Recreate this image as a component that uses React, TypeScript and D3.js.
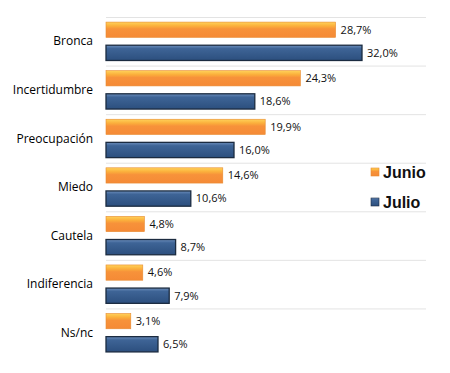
import { useRef, useEffect } from "react";
import * as d3 from "d3";

const categories = ["Bronca", "Incertidumbre", "Preocupación", "Miedo", "Cautela", "Indiferencia", "Ns/nc"];
const series = ["Junio", "Julio"];
const junio = [28.7, 24.3, 19.9, 14.6, 4.8, 4.6, 3.1];
const julio = [32.0, 18.6, 16.0, 10.6, 8.7, 7.9, 6.5];

const W = 450;
const H = 373;

const App = () => {
  const svgRef = useRef<SVGSVGElement | null>(null);
  const margin = { top: 17, right: 24, bottom: 16, left: 106 };

  useEffect(() => {
    if (!svgRef.current) return;
    const svg = d3.select(svgRef.current);
    svg.selectAll("*").remove();

    const defs = svg.append("defs");
    const gOr = defs.append("linearGradient").attr("id", "gOr").attr("x1", 0).attr("y1", 0).attr("x2", 0).attr("y2", 1);
    gOr.append("stop").attr("offset", "0%").attr("stop-color", "#ffd25a");
    gOr.append("stop").attr("offset", "25%").attr("stop-color", "#fbb03c");
    gOr.append("stop").attr("offset", "45%").attr("stop-color", "#f7923a");
    gOr.append("stop").attr("offset", "100%").attr("stop-color", "#f58a36");
    const gBl = defs.append("linearGradient").attr("id", "gBl").attr("x1", 0).attr("y1", 0).attr("x2", 0).attr("y2", 1);
    gBl.append("stop").attr("offset", "0%").attr("stop-color", "#6d8fbd");
    gBl.append("stop").attr("offset", "22%").attr("stop-color", "#3e6496");
    gBl.append("stop").attr("offset", "100%").attr("stop-color", "#2c4f7e");
    const fills = ["url(#gOr)", "url(#gBl)"];
    const strokes = ["#e88a30", "#1b2b40"];

    const plotW = 426 - margin.left;
    const plotH = H - margin.top - margin.bottom;

    // 1 % = 8 px
    const x = d3.scaleLinear().domain([0, plotW / 8]).range([margin.left, margin.left + plotW]);
    const y = d3.scaleBand().domain(categories).range([margin.top, margin.top + plotH]).padding(0);
    const inner = d3.scaleBand().domain(series).range([0, y.bandwidth()]).paddingInner(0.34).paddingOuter(0.22);

    // separators
    svg.append("g")
      .selectAll("line")
      .data(categories)
      .enter()
      .append("line")
      .attr("x1", margin.left)
      .attr("x2", margin.left + plotW)
      .attr("y1", d => (y(d) || 0) + 0.5)
      .attr("y2", d => (y(d) || 0) + 0.5)
      .attr("stroke", "#e3e3e3")
      .attr("stroke-width", 1);

    // category labels
    svg.append("g")
      .selectAll("text")
      .data(categories)
      .enter()
      .append("text")
      .attr("x", margin.left - 13)
      .attr("y", d => (y(d) || 0) + y.bandwidth() / 2)
      .attr("dy", "0.35em")
      .attr("text-anchor", "end")
      .attr("font-family", "'Open Sans', sans-serif")
      .attr("font-size", "12px")
      .attr("fill", "#000")
      .text(d => d);

    const values = [junio, julio];
    series.forEach((s, si) => {
      const g = svg.append("g");
      const vals = values[si];
      g.selectAll("rect")
        .data(vals)
        .enter()
        .append("rect")
        .attr("x", x(0))
        .attr("y", (_, i) => (y(categories[i]) || 0) + (inner(s) || 0))
        .attr("width", d => x(d) - x(0))
        .attr("height", inner.bandwidth())
        .attr("fill", fills[si])
        .attr("stroke", strokes[si])
        .attr("stroke-width", si === 0 ? 0.6 : 1.3);
      g.selectAll("text")
        .data(vals)
        .enter()
        .append("text")
        .attr("x", d => x(d) + 5)
        .attr("y", (_, i) => (y(categories[i]) || 0) + (inner(s) || 0) + inner.bandwidth() / 2)
        .attr("dy", "0.35em")
        .attr("font-family", "'Open Sans', sans-serif")
        .attr("font-size", "11px")
        .attr("fill", "#111")
        .text(d => d3.format(".1f")(d).replace(".", ",") + "%");
    });

    // legend
    const legend = svg.append("g").attr("transform", "translate(371,168)");
    series.forEach((s, si) => {
      const row = legend.append("g").attr("transform", `translate(0,${si * 30})`);
      row.append("rect")
        .attr("width", 8)
        .attr("height", 8)
        .attr("fill", fills[si])
        .attr("stroke", strokes[si])
        .attr("stroke-width", 0.6);
      row.append("text")
        .attr("x", 12)
        .attr("y", 4)
        .attr("dy", "0.36em")
        .attr("font-family", "'Liberation Sans', Arial, sans-serif")
        .attr("font-size", "16px")
        .attr("font-weight", "bold")
        .attr("fill", "#111")
        .text(s);
    });
  }, []);

  return (
    <svg
      ref={svgRef}
      width={W}
      height={H}
      viewBox={`0 0 ${W} ${H}`}
      style={{ position: "absolute", left: 0, top: 0, background: "#fff" }}
    ></svg>
  );
};

export default App;
